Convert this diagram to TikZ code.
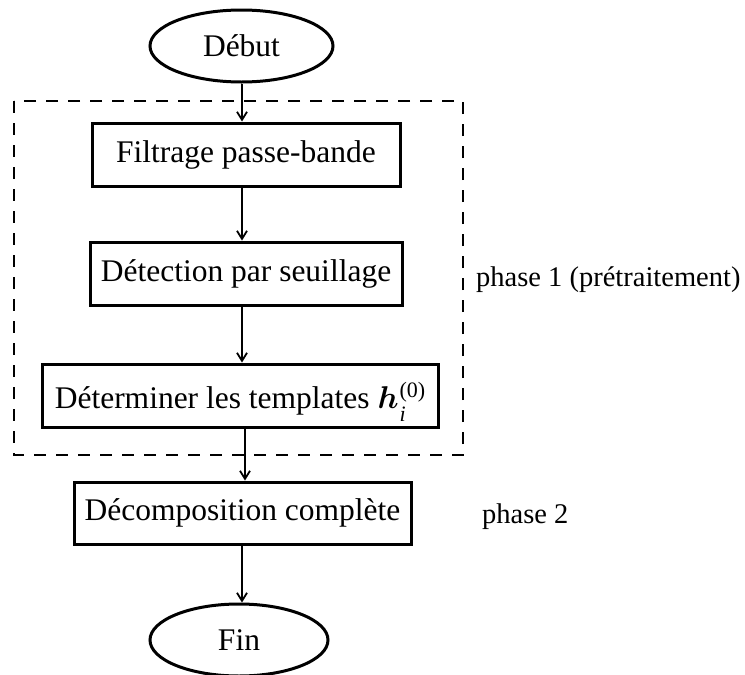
\RequirePackage{fix-cm}
\documentclass[tikz,border=0pt]{standalone}
\usepackage{amsmath,bm}
\usepackage{fontspec}
\setmainfont{Liberation Serif}
\usetikzlibrary{shapes.geometric,arrows.meta}
\newcommand{\scr}[1]{{\fontsize{22}{22}\selectfont #1}}
\begin{document}
\begin{tikzpicture}[x=1pt,y=-1pt,
  every node/.style={font=\fontsize{31.5}{36}\selectfont},
  stepbox/.style={draw,line width=3pt,rectangle,inner sep=0pt},
  term/.style={draw,line width=3pt,ellipse,inner sep=0pt},
  side/.style={font=\fontsize{28.5}{34}\selectfont,anchor=base west,inner sep=0pt},
  conn/.style={line width=2.4pt,-{Straight Barb[length=8pt,width=10pt,line width=1.8pt]}},
  frame/.style={draw,line width=2.8pt,dash pattern=on 12pt off 10pt}]
\useasboundingbox (0,0) rectangle (745,675);
\node[term,minimum width=183pt,minimum height=72pt] (debut) at (241.5,46) {Début};
\node[stepbox,minimum width=308pt,minimum height=63pt] (f1) at (246,154.5) {Filtrage passe-bande};
\node[stepbox,minimum width=312pt,minimum height=63pt] (f2) at (246,273.5) {Détection par seuillage};
\node[stepbox,minimum width=396pt,minimum height=63pt,text height=21pt,text depth=0pt] (f3) at (240,395.5) {\raisebox{-2pt}{Déterminer les templates $\bm{h}$\kern1pt\rlap{\raisebox{-13pt}{\scr{\itshape i}}}\raisebox{11pt}{\scr{(0)}}}};
\node[stepbox,minimum width=337pt,minimum height=62pt] (f4) at (242.5,513) {Décomposition complète};
\node[term,minimum width=178pt,minimum height=72pt] (fin) at (239,640) {Fin};
\coordinate (fa) at (14,101);
\coordinate (fb) at (463,455);
\draw[frame] (fa) rectangle (fb);
\node[side] (p1) at (476,286) {phase 1 (prétraitement)};
\node[side] (p2) at (482,523) {phase 2};
\draw[conn] (debut.south -| 242,0) -- (f1.north -| 242,0);
\draw[conn] (f1.south -| 242,0) -- (f2.north -| 242,0);
\draw[conn] (f2.south -| 242,0) -- (f3.north -| 242,0);
\draw[conn] (f3.south -| 245,0) -- (f4.north -| 245,0);
\draw[conn] (f4.south -| 242,0) -- (fin.north -| 242,0);
\end{tikzpicture}
\end{document}
